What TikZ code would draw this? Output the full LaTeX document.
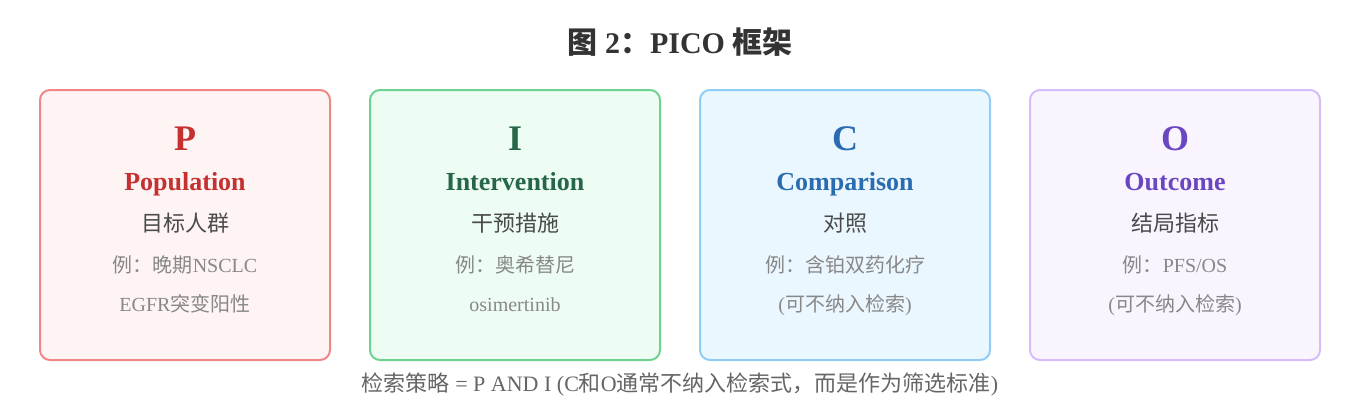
\documentclass[tikz,border=0pt]{standalone}
\usepackage{fontspec}
\setmainfont{Liberation Serif}
\newfontfamily\cjk{Noto Sans CJK SC}
\newcommand\zh[1]{{\cjk #1}}
\definecolor{pT}{HTML}{C53030}\definecolor{pB}{HTML}{F28585}\definecolor{pF}{HTML}{FFF4F4}
\definecolor{iT}{HTML}{276749}\definecolor{iB}{HTML}{6FD290}\definecolor{iF}{HTML}{EEFDF3}
\definecolor{cT}{HTML}{2B6CB0}\definecolor{cB}{HTML}{90CDF4}\definecolor{cF}{HTML}{EBF7FF}
\definecolor{oT}{HTML}{6B46C1}\definecolor{oB}{HTML}{D6BCFA}\definecolor{oF}{HTML}{FAF4FF}
\definecolor{bodyC}{HTML}{4A4A4A}\definecolor{exC}{HTML}{888888}\definecolor{titleC}{HTML}{333333}
\begin{document}
\begin{tikzpicture}[x=1pt,y=-1pt,
  card/.style={draw=#1B,fill=#1F,line width=2pt,rounded corners=10pt},
  letter/.style={anchor=base,inner sep=0pt,text=#1T,font=\fontsize{36}{42}\selectfont\bfseries},
  eng/.style={anchor=base,inner sep=0pt,text=#1T,font=\fontsize{26}{30}\selectfont\bfseries},
  zhname/.style={anchor=base,inner sep=0pt,text=bodyC,font=\fontsize{22}{26}\selectfont},
  example/.style={anchor=base,inner sep=0pt,text=exC,font=\fontsize{20}{24}\selectfont}]
\useasboundingbox (0,0) rectangle (1360,400);
\node[anchor=base,inner sep=0pt,text=titleC,font=\fontsize{30}{36}\selectfont\bfseries] (title) at (680,53) {\zh{图} 2\zh{：}PICO \zh{框架}};
% boxes
\draw[card=p] (40,90) rectangle (330,360);
\draw[card=i] (370,90) rectangle (660,360);
\draw[card=c] (700,90) rectangle (990,360);
\draw[card=o] (1030,90) rectangle (1320,360);
% P
\node[letter=p] (pL) at (185,150) {P};
\node[eng=p] (pE) at (185,190) {Population};
\node[zhname] (pZ) at (185,231) {\zh{目标人群}};
\node[example] (pX1) at (185,272) {\zh{例：晚期}NSCLC};
\node[example] (pX2) at (185,311) {EGFR\zh{突变阳性}};
% I
\node[letter=i] (iL) at (515,150) {I};
\node[eng=i] (iE) at (515,190) {Intervention};
\node[zhname] (iZ) at (515,231) {\zh{干预措施}};
\node[example] (iX1) at (515,272) {\zh{例：奥希替尼}};
\node[example] (iX2) at (515,311) {osimertinib};
% C
\node[letter=c] (cL) at (845,150) {C};
\node[eng=c] (cE) at (845,190) {Comparison};
\node[zhname] (cZ) at (845,231) {\zh{对照}};
\node[example] (cX1) at (845,272) {\zh{例：含铂双药化疗}};
\node[example] (cX2) at (845,311) {(\zh{可不纳入检索})};
% O
\node[letter=o] (oL) at (1175,150) {O};
\node[eng=o] (oE) at (1175,190) {Outcome};
\node[zhname] (oZ) at (1175,231) {\zh{结局指标}};
\node[example] (oX1) at (1175,272) {\zh{例：}PFS/OS};
\node[example] (oX2) at (1175,311) {(\zh{可不纳入检索})};
% footnote
\node[anchor=base,inner sep=0pt,text=bodyC!85!white,font=\fontsize{22}{26}\selectfont] (note) at (680,391) {\zh{检索策略} = P AND I (C\zh{和}O\zh{通常不纳入检索式，而是作为筛选标准})};
\end{tikzpicture}
\end{document}
